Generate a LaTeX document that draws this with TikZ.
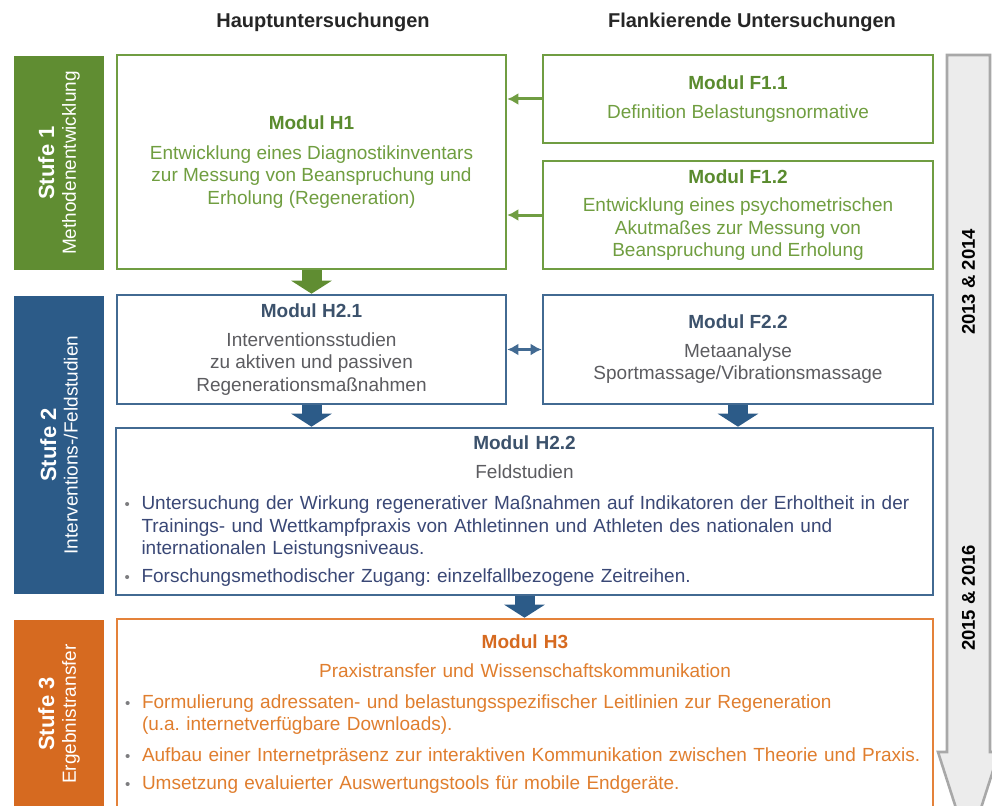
\documentclass[tikz,border=0pt]{standalone}
\usepackage{fontspec}
\setmainfont{Liberation Sans}
\usepackage{tikz}
\usetikzlibrary{arrows.meta,positioning}
\frenchspacing
\definecolor{stufegreen}{RGB}{96,141,50}
\definecolor{linegreen}{RGB}{112,157,66}
\definecolor{titlegreen}{RGB}{90,139,46}
\definecolor{textgreen}{RGB}{112,158,64}
\definecolor{stufeblue}{RGB}{44,91,136}
\definecolor{lineblue}{RGB}{66,106,146}
\definecolor{titleblue}{RGB}{60,82,108}
\definecolor{textgray}{RGB}{92,92,96}
\definecolor{textblue}{RGB}{58,72,118}
\definecolor{stufeorange}{RGB}{214,106,32}
\definecolor{lineorange}{RGB}{228,130,58}
\definecolor{textorange}{RGB}{224,126,46}
\definecolor{timegray}{RGB}{236,236,236}
\definecolor{timeline}{RGB}{168,168,168}
\newcommand{\pkt}{\makebox[17pt][l]{\textcolor{textgray!80}{\fontsize{15pt}{15pt}\selectfont\textbullet}}}
\newcommand{\einr}{\hspace*{17pt}}
\newcommand{\zeile}[1]{\makebox[800pt][l]{#1}}

\begin{document}
\begin{tikzpicture}[
    x=1pt, y=-1pt,
    every node/.style={align=center, font=\fontsize{19pt}{22.5pt}\selectfont},
    modbox/.style={rectangle, draw, line width=2.6pt, fill=white, inner sep=0pt},
    stufebox/.style={rectangle, rotate=90, text=white, minimum height=90pt, inner sep=0pt},
    kopf/.style={font=\fontsize{20pt}{24pt}\selectfont\bfseries, text=black!85},
    jahr/.style={rotate=90, font=\fontsize{18.5pt}{22pt}\selectfont\bfseries},
    blockpfeil/.style={line width=20pt, -{Triangle[width=40pt,length=13pt]}},
    pfeil/.style={line width=3pt, -{Latex[length=11pt,width=12pt]}},
    doppelpfeil/.style={line width=3pt, {Latex[length=11pt,width=12pt]}-{Latex[length=11pt,width=12pt]}}
]
\useasboundingbox (0,0) rectangle (992,805);
\clip (0,0) rectangle (992,805);

% Zeitachse
\draw[fill=timegray, draw=timeline, line width=2.6pt] (947,55) -- (990,55) -- (990,752) -- (999,752) -- (968.5,847) -- (938,752) -- (947,752) -- cycle;
\node[jahr] (j1) at (968.5,282) {2013 \& 2014};
\node[jahr] (j2) at (968.5,598) {2015 \& 2016};

% Spaltenkoepfe
\node[kopf] (haupt) at (323,22) {Hauptuntersuchungen};
\node[kopf] (flank) at (752,22) {Flankierende Untersuchungen};

% Stufen
\node[stufebox, fill=stufegreen, minimum width=214pt] (s1) at (59,163) {{\fontsize{22pt}{24pt}\selectfont\bfseries Stufe 1}\\[-1pt] Methodenentwicklung};
\node[stufebox, fill=stufeblue, minimum width=298pt] (s2) at (59,445) {{\fontsize{22pt}{24pt}\selectfont\bfseries Stufe 2}\\[-1pt] Interventions-/Feldstudien};
\node[stufebox, fill=stufeorange, minimum width=188pt] (s3) at (59,714) {{\fontsize{22pt}{24pt}\selectfont\bfseries Stufe 3}\\[-1pt] Ergebnistransfer};

% Stufe 1
\node[modbox, draw=linegreen, text=textgreen, minimum width=389pt, minimum height=214pt] (h1) at (311.5,162) {\textcolor{titlegreen}{\bfseries Modul H1}\\[7pt] Entwicklung eines Diagnostikinventars\\ zur Messung von Beanspruchung und\\ Erholung (Regeneration)};
\node[modbox, draw=linegreen, text=textgreen, minimum width=390pt, minimum height=88pt] (f11) at (738,99) {\textcolor{titlegreen}{\bfseries Modul F1.1}\\[6pt] Definition Belastungsnormative};
\node[modbox, draw=linegreen, text=textgreen, minimum width=390pt, minimum height=108pt] (f12) at (738,215) {\textcolor{titlegreen}{\bfseries Modul F1.2}\\[6pt] Entwicklung eines psychometrischen\\ Akutmaßes zur Messung von\\ Beanspruchung und Erholung};

% Stufe 2
\node[modbox, draw=lineblue, text=textgray, minimum width=389pt, minimum height=109pt] (h21) at (311.5,349.5) {\textcolor{titleblue}{\bfseries Modul H2.1}\\[6pt] Interventionsstudien\\ zu aktiven und passiven\\ Regenerationsmaßnahmen};
\node[modbox, draw=lineblue, text=textgray, minimum width=390pt, minimum height=109pt] (f22) at (738,349.5) {\textcolor{titleblue}{\bfseries Modul F2.2}\\[6pt] Metaanalyse\\ Sportmassage/Vibrationsmassage};
\node[modbox, draw=lineblue, text=textblue, minimum width=817pt, minimum height=167pt, text width=800pt] (h22) at (524.5,511.5) {\textcolor{titleblue}{\bfseries Modul H2.2}\\[6.5pt]
  \textcolor{textgray}{Feldstudien}\\[8.5pt]
  \zeile{\pkt Untersuchung der Wirkung regenerativer Maßnahmen auf Indikatoren der Erholtheit in der}\\
  \zeile{\einr Trainings- und Wettkampfpraxis von Athletinnen und Athleten des nationalen und}\\
  \zeile{\einr internationalen Leistungsniveaus.}\\[5.5pt]
  \zeile{\pkt Forschungsmethodischer Zugang: einzelfallbezogene Zeitreihen.}};

% Stufe 3
\node[modbox, draw=lineorange, text=textorange, minimum width=816pt, minimum height=190pt, text width=800pt] (h3) at (525,714) {\textcolor{stufeorange}{\bfseries Modul H3}\\[6.5pt]
  Praxistransfer und Wissenschaftskommunikation\\[8.5pt]
  \zeile{\pkt Formulierung adressaten- und belastungsspezifischer Leitlinien zur Regeneration}\\
  \zeile{\einr (u.a. internetverfügbare Downloads).}\\[8.5pt]
  \zeile{\pkt Aufbau einer Internetpräsenz zur interaktiven Kommunikation zwischen Theorie und Praxis.}\\[5.5pt]
  \zeile{\pkt Umsetzung evaluierter Auswertungstools für mobile Endgeräte.}};

% Verbindungen
\draw[blockpfeil, draw=stufegreen] (h1.south) -- (h21.north);
\draw[blockpfeil, draw=stufeblue] (h21.south) -- (h22.north -| h21.south);
\draw[blockpfeil, draw=stufeblue] (f22.south) -- (h22.north -| f22.south);
\draw[blockpfeil, draw=stufeblue] (h22.south) -- (h3.north -| h22.south);
\draw[pfeil, draw=linegreen] (f11.west) -- (h1.east |- f11.west);
\draw[pfeil, draw=linegreen] (f12.west) -- (h1.east |- f12.west);
\draw[doppelpfeil, draw=lineblue] (h21.east) -- (f22.west);

\end{tikzpicture}
\end{document}
